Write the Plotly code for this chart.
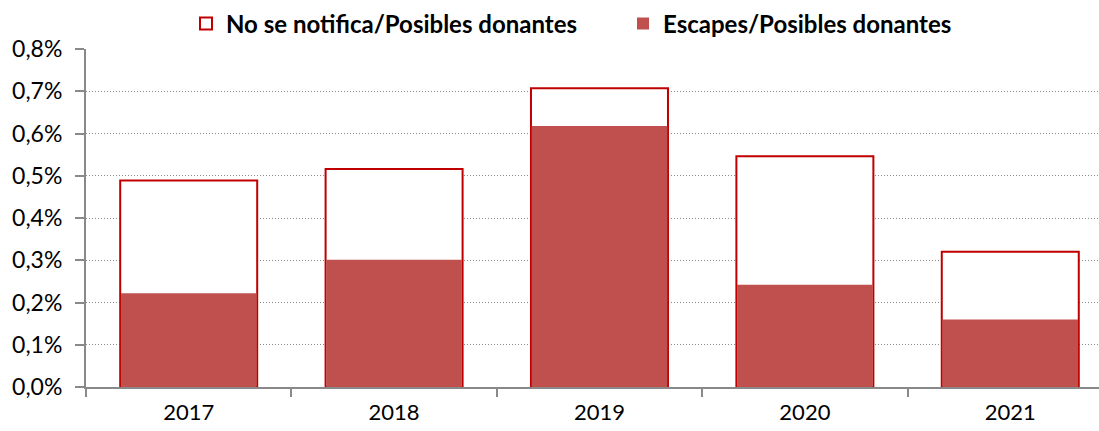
import plotly.graph_objects as go

years = ["2017", "2018", "2019", "2020", "2021"]
no_notifica = [0.00489, 0.00516, 0.00707, 0.00546, 0.00320]
escapes = [0.00222, 0.00301, 0.00618, 0.00242, 0.00160]
y_ticks = [0, 0.001, 0.002, 0.003, 0.004, 0.005, 0.006, 0.007, 0.008]

FONT = "Lato"
GRAY = "#898989"

fig = go.Figure()
fig.add_trace(go.Bar(
    x=years, y=no_notifica, name="No se notifica/Posibles donantes",
    width=0.667, marker=dict(color="white", line=dict(color="#C00000", width=2)),
))
fig.add_trace(go.Bar(
    x=years, y=escapes, name="Escapes/Posibles donantes",
    width=0.66, marker=dict(color="#C0504D", line=dict(color="#C0504D", width=0)),
))

fig.update_layout(
    width=1099, height=431,
    margin=dict(l=86, r=0, t=49, b=44),
    barmode="overlay",
    separators=",.",
    paper_bgcolor="white", plot_bgcolor="white",
    font=dict(family=FONT, size=22, color="black"),
    showlegend=True,
    legend=dict(
        orientation="h", x=(186 - 86) / 1013, xanchor="left", y=1.074, yanchor="middle",
        font=dict(family=FONT, size=24, color="black", weight="bold"),
        itemwidth=30, traceorder="normal",
        entrywidth=392, entrywidthmode="pixels",
    ),
    xaxis=dict(
        type="category", range=[-0.5, 4.432],
        showline=True, linecolor=GRAY, linewidth=2,
        ticks="outside", tickson="boundaries", ticklen=8, tickcolor=GRAY, tickwidth=2,
        showgrid=False, tickfont=dict(size=22, family=FONT),
        ticklabelstandoff=5,
    ),
    yaxis=dict(
        range=[0, 0.008], tickvals=y_ticks, tickformat=".1%",
        showline=True, linecolor=GRAY, linewidth=2,
        ticks="outside", ticklen=9, tickcolor=GRAY, tickwidth=2,
        showgrid=True, gridcolor="#8a8a8a", griddash="1px,2px", gridwidth=1,
        tickfont=dict(size=23, family=FONT), zeroline=False,
        ticklabelstandoff=8,
    ),
)

fig.write_html("out.html")
